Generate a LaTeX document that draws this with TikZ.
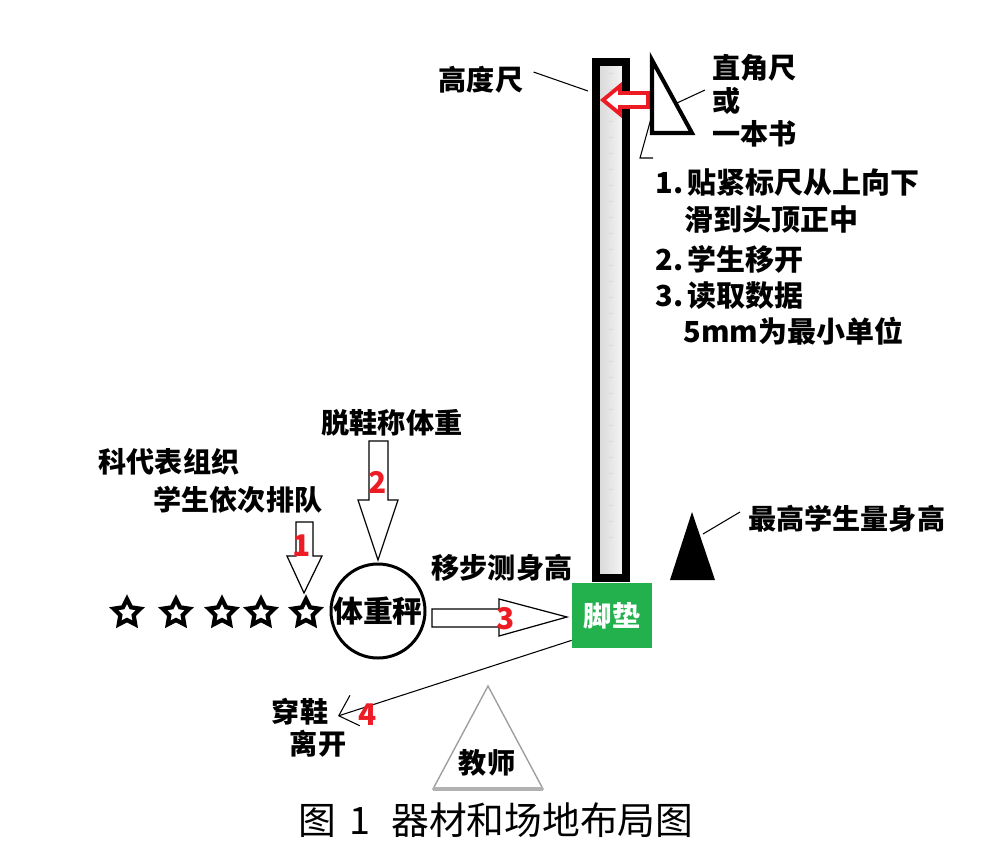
\documentclass[tikz,border=0pt]{standalone}
\usepackage{fontspec}
\setmainfont{Noto Sans CJK SC}
\usetikzlibrary{arrows.meta,positioning,calc,shapes.geometric}

\definecolor{padgreen}{RGB}{34,177,76}
\definecolor{numred}{RGB}{237,28,36}

\begin{document}
\begin{tikzpicture}[
  x=0.02cm, y=-0.02cm,
  font=\fontsize{16}{19}\selectfont\bfseries,
  txt/.style={inner sep=0pt},
  steptxt/.style={inner sep=0pt, anchor=west, font=\fontsize{16.5}{19}\selectfont\bfseries},
  num/.style={text=numred, inner sep=0pt, font=\fontsize{17}{20}\selectfont\bfseries},
  leader/.style={line width=0.6pt},
  hollow/.style={draw, line width=0.7pt, fill=white},
  pupil/.style={star, star points=5, star point ratio=2.0, draw, line width=2.4pt, fill=white, minimum size=0.56cm, inner sep=0pt},
]
\useasboundingbox (0,0) rectangle (1005,849);

% Height ruler with faint scale marks
\node[draw, line width=4.5pt, minimum width=0.6cm, minimum height=10.32cm, inner sep=0pt,
      left color=gray!32, right color=gray!6] (ruler) at (611,320) {};
\foreach \y in {73,89,...,537}
  \draw[gray!30, line width=0.4pt] (609,\y) -- (613,\y);

% Red arrow pushing the square onto the ruler
\draw[numred, line width=2.2pt, fill=white]
  (603,100) -- (620,86) -- (620,93) -- (648,93) -- (648,107) -- (620,107) -- (620,114) -- cycle;

% Set square
\draw[line width=2.3pt] (652,60) -- (652,133) -- (692,133) -- cycle;

% Labels round the ruler
\node[txt] (rulername) at (481,80) {高度尺};
\coordinate (rulerpt) at (588,91);
\draw[leader] ($(rulername.east)+(10,-8)$) -- (rulerpt);

\node[txt, anchor=west] (square) at (712,68)  {直角尺};
\node[txt, anchor=west] (or)     at (712,101) {或};
\node[txt, anchor=west] (book)   at (712,134) {一本书};
\coordinate (squarept) at (677,103);
\draw[leader] (squarept) -- ($(or.west)+(-7,-11)$);
\coordinate (edgept) at (652,115);
\coordinate (bend)   at (640,158);
\draw[leader] (edgept) -- (bend) -- ++(13,0);

% Steps of the reading
\node[steptxt] (step1a) at (655,183) {1.\,贴紧标尺从上向下};
\node[steptxt] (step1b) at (684,220) {滑到头顶正中};
\node[steptxt] (step2)  at (655,259) {2.\,学生移开};
\node[steptxt] (step3a) at (655,296) {3.\,读取数据};
\node[steptxt] (step3b) at (683,331) {5mm为最小单位};

% Tallest student
\fill (692,512) -- (670,580) -- (715,580) -- cycle;
\node[txt, anchor=west] (tallest) at (748,519) {最高学生量身高};
\coordinate (tallpt) at (703,534);
\draw[leader] (tallpt) -- ($(tallest.west)+(-8,-7)$);

% Foot pad
\node[fill=padgreen, text=white, minimum width=1.6cm, minimum height=1.3cm, inner sep=0pt] (pad) at (612,615.5) {脚垫};

% Queue of students and the scale
\foreach \x [count=\i] in {127,176,222,261,306}
  \node[pupil] (s\i) at (\x,613) {};
\node[draw, circle, line width=1.7pt, minimum size=1.76cm, inner sep=0pt,
      font=\fontsize{17}{20}\selectfont\bfseries] (scale) at (378,611) {体重秤};

\node[txt] (organise) at (169,462) {科代表组织};
\node[txt] (queue)    at (238,500) {学生依次排队};
\node[txt] (weigh)    at (392,423) {脱鞋称体重};
\node[txt] (move)     at (502,568) {移步测身高};

% Hollow arrows 1-3
\draw[hollow] (296,522) -- (313,522) -- (313,556) -- (322,556) -- (304,593) -- (287,556) -- (296,556) -- cycle;
\draw[hollow] (369,441) -- (388,441) -- (388,500) -- (398,500) -- (378,560) -- (358,500) -- (369,500) -- cycle;
\draw[hollow] (432,609) -- (499,609) -- (499,599) -- (567,617) -- (499,636) -- (499,627) -- (432,627) -- cycle;
\node[num] (n1) at (302,546) {1};
\node[num] (n2) at (378,482) {2};
\node[num] (n3) at (506,619) {3};

% Leaving
\coordinate (leave) at (338,716);
\draw[line width=0.6pt, -{Straight Barb[length=3.4mm,width=6.4mm]}] ($(pad.south west)+(0,-8)$) -- (leave);
\node[num] (n4) at (368,715) {4};
\node[txt] (shoes) at (300,712) {穿鞋};
\node[txt] (away)  at (318,744) {离开};

% Teacher
\draw[gray!75, line width=0.8pt] (488,686) -- (433,789) -- (543,789) -- cycle;
\draw[gray!60, line width=1.8pt] (433,789) -- (543,789);
\node[txt] (teacher) at (487,763) {教师};

% Caption
\node[txt, font=\fontsize{21.5}{25}\selectfont] (caption) at (496,820) {图\hspace{0.35em}1\hspace{0.55em}器材和场地布局图};

\end{tikzpicture}
\end{document}
